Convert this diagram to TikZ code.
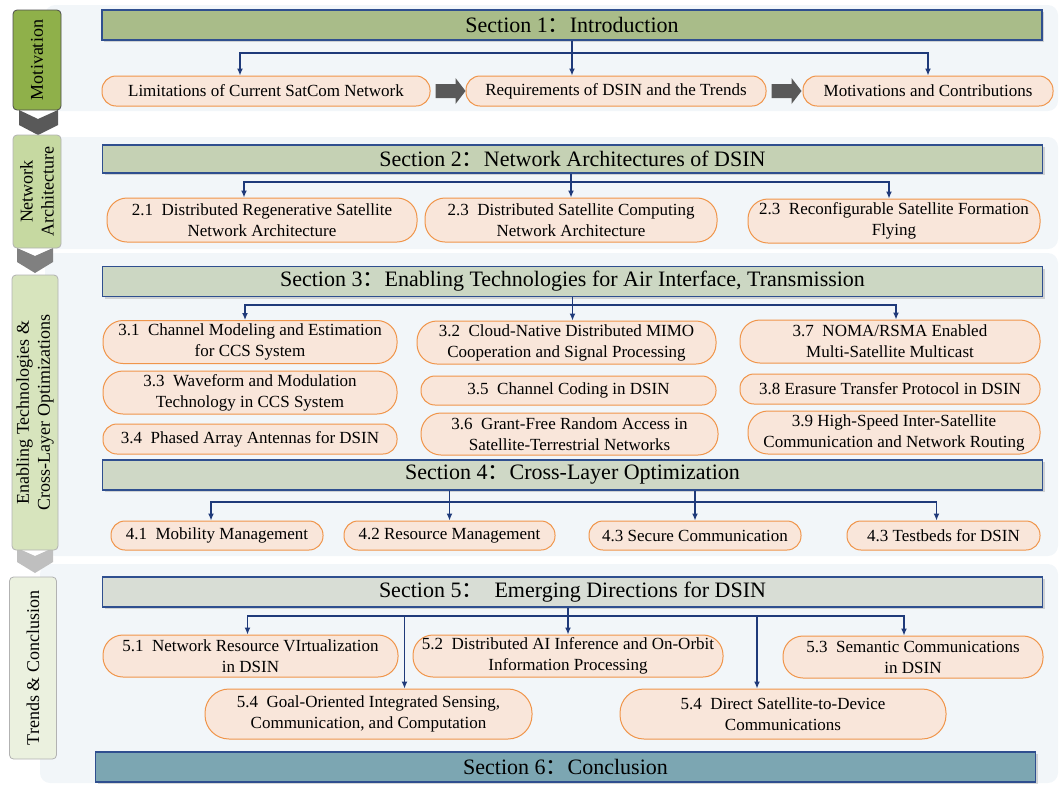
\documentclass[tikz,border=0pt]{standalone}
\usepackage{fontspec}
\setmainfont{Liberation Serif}
\newfontfamily\cjk{Noto Sans CJK SC}
\usetikzlibrary{arrows.meta,shadows,calc}

\definecolor{panelbg}{HTML}{F2F6F9}
\definecolor{secline}{HTML}{2F4F8F}
\definecolor{linkblue}{HTML}{1F3A7A}
\definecolor{pillfill}{HTML}{F9E6DA}
\definecolor{pillline}{HTML}{F0954A}
\definecolor{secA}{HTML}{A9BC89}
\definecolor{secB}{HTML}{C5D1B4}
\definecolor{secC}{HTML}{CCD7C3}
\definecolor{secD}{HTML}{CFD8C6}
\definecolor{secE}{HTML}{D8DDD5}
\definecolor{secF}{HTML}{7CA6B2}
\definecolor{sideA}{HTML}{8FB04A}
\definecolor{sideB}{HTML}{C6D9A1}
\definecolor{sideC}{HTML}{D7E4BD}
\definecolor{sideD}{HTML}{EBF1DF}

\newcommand{\fcolon}{{\cjk ：}}

\tikzset{
  secbox/.style={draw=secline, line width=1.2pt, inner sep=0pt,
    minimum width=940pt, minimum height=30pt,
    font=\fontsize{22}{26}\selectfont,
    drop shadow={shadow xshift=2pt, shadow yshift=-2pt, opacity=0.3}},
  pill/.style={draw=pillline, fill=pillfill, line width=1pt,
    rounded corners=14pt, minimum height=30pt, inner sep=1pt,
    align=center, font=\fontsize{17}{21}\selectfont},
  pilltwo/.style={pill, rounded corners=20pt, minimum height=43pt},
  link/.style={draw=linkblue, line width=1.3pt, -{Latex[length=7pt,width=6pt]}},
  sidebox/.style={rotate=90, rounded corners=4pt, line width=0.8pt,
    inner sep=0pt, align=center, font=\fontsize{18}{21}\selectfont},
  chevron/.style={line join=round},
}

\begin{document}
\begin{tikzpicture}[x=1pt, y=-1pt]
\useasboundingbox (0,0) rectangle (1062,785);

% 背景面板
\fill[panelbg, rounded corners=10pt] (45,5) rectangle (1058,111);
\fill[panelbg, rounded corners=10pt] (45,137) rectangle (1058,249);
\fill[panelbg, rounded corners=10pt] (45,253) rectangle (1058,556);
\fill[panelbg, rounded corners=10pt] (40,564) rectangle (1058,783);

% 左侧箭头
\fill[chevron, black!65] (19,110) -- (38,119) -- (58,110) -- (58,125) -- (38,135) -- (19,125) -- cycle;
\fill[chevron, black!50] (17,248) -- (35,256) -- (53,248) -- (53,262) -- (35,273) -- (17,262) -- cycle;
\fill[chevron, black!25] (17,548) -- (35,556) -- (53,548) -- (53,562) -- (35,573) -- (17,562) -- cycle;

% 左侧标签
\node[sidebox, fill=sideA, draw=black!70, minimum width=100pt, minimum height=48pt] (sa) at (37,60) {Motivation};
\node[sidebox, fill=sideB, draw=black!30, minimum width=113pt, minimum height=48pt] (sb) at (37,191.5) {Network\\Architecture};
\node[sidebox, fill=sideC, draw=black!30, minimum width=275pt, minimum height=46pt] (sc) at (35,412.5) {Enabling Technologies \&\\Cross-Layer Optimizations};
\node[sidebox, fill=sideD, draw=black!30, minimum width=182pt, minimum height=47pt] (sd) at (33,668) {Trends \& Conclusion};

% 章节标题
\node[secbox, fill=secA] (s1) at (572,25) {Section 1\fcolon Introduction};
\node[secbox, fill=secB, minimum height=28pt] (s2) at (572.5,159) {Section 2\fcolon Network Architectures of DSIN};
\node[secbox, fill=secC] (s3) at (572.5,281.5) {Section 3\fcolon Enabling Technologies for Air Interface, Transmission};
\node[secbox, fill=secD] (s4) at (572.5,475) {Section 4\fcolon Cross-Layer Optimization};
\node[secbox, fill=secE] (s5) at (572.5,592) {Section 5\fcolon\ \ Emerging Directions for DSIN};
\node[secbox, fill=secF] (s6) at (565.5,767) {Section 6\fcolon Conclusion};

% 第一节
\node[pill, minimum width=328pt] (lim) at (266,91) {Limitations of Current SatCom Network};
\node[pill, minimum width=300pt] (req) at (616,91) {Requirements of DSIN and the Trends};
\node[pill, minimum width=250pt] (mot) at (928,91) {Motivations and Contributions};

% 第二节
\node[pilltwo, minimum width=310pt, minimum height=44pt] (n21) at (262,220) {2.1\ \ Distributed Regenerative Satellite\\Network Architecture};
\node[pilltwo, minimum width=292pt, minimum height=44pt] (n22) at (571,220) {2.3\ \ Distributed Satellite Computing\\Network Architecture};
\node[pilltwo, minimum width=292pt, minimum height=44pt] (n23) at (894,221) {2.3\ \ Reconfigurable Satellite Formation\\Flying};

% 第三节
\node[pilltwo, minimum width=294pt] (n31) at (250,342) {3.1\ \ Channel Modeling and Estimation\\for CCS System};
\node[pilltwo, minimum width=294pt] (n33) at (250,392.5) {3.3\ \ Waveform and Modulation\\Technology in CCS System};
\node[pill, minimum width=294pt] (n34) at (250,439) {3.4\ \ Phased Array Antennas for DSIN};
\node[pilltwo, minimum width=299pt] (n32) at (566.5,342.5) {3.2\ \ Cloud-Native Distributed MIMO\\Cooperation and Signal Processing};
\node[pill, minimum width=295pt, minimum height=29pt] (n35) at (568.5,390.5) {3.5\ \ Channel Coding in DSIN};
\node[pilltwo, minimum width=297pt, minimum height=42pt] (n36) at (569.5,434) {3.6\ \ Grant-Free Random Access in\\Satellite-Terrestrial Networks};
\node[pilltwo, minimum width=300pt] (n37) at (890,341.5) {3.7\ \ NOMA/RSMA Enabled\\Multi-Satellite Multicast};
\node[pill, minimum width=300pt] (n38) at (890,389) {3.8 Erasure Transfer Protocol in DSIN};
\node[pilltwo, minimum width=292pt] (n39) at (894,432.5) {3.9 High-Speed Inter-Satellite\\Communication and Network Routing};

% 第四节
\node[pill, minimum width=212pt, minimum height=29pt] (n41) at (217,535.5) {4.1\ \ Mobility Management};
\node[pill, minimum width=211pt, minimum height=29pt] (n42) at (449.5,535.5) {4.2 Resource Management};
\node[pill, minimum width=212pt, minimum height=29pt] (n43) at (695,535.5) {4.3 Secure Communication};
\node[pill, minimum width=193pt, minimum height=29pt] (n44) at (943.5,535.5) {4.3 Testbeds for DSIN};

% 第五节
\node[pilltwo, minimum width=295pt, minimum height=42pt] (n51) at (250.5,656) {5.1\ \ Network Resource VIrtualization\\in DSIN};
\node[pilltwo, minimum width=310pt, minimum height=42pt] (n52) at (568,656) {5.2\ \ Distributed AI Inference and On-Orbit\\Information Processing};
\node[pilltwo, minimum width=260pt, minimum height=42pt] (n53) at (913,657) {5.3\ \ Semantic Communications\\in DSIN};
\node[pilltwo, minimum width=327pt, minimum height=50pt, rounded corners=24pt] (n54) at (368.5,714) {5.4\ \ Goal-Oriented Integrated Sensing,\\Communication, and Computation};
\node[pilltwo, minimum width=326pt, minimum height=50pt, rounded corners=24pt] (n55) at (783,714) {5.4\ \ Direct Satellite-to-Device\\Communications};

% 灰色粗箭头
\foreach \a in {lim,req}
  \fill[black!65] ($(\a.east)+(5,-7)$) -- ++(20,0) -- ++(0,-6) -- ++(10,13)
    -- ++(-10,13) -- ++(0,-6) -- ++(-20,0) -- cycle;

% 连线
\coordinate (t11) at ([xshift=-26pt]lim.north);
\draw[link] (s1.south) -- (s1.south |- req.north);
\draw[link] (s1.south |- 0,53) -| (t11);
\draw[link] (s1.south |- 0,53) -| (mot.north);

\coordinate (t21) at ([xshift=-18pt]n21.north);
\draw[link] (s2.south -| n22.north) -- (n22.north);
\draw[link] (n22.north |- 0,182) -| (t21);
\draw[link] (n22.north |- 0,182) -| ([xshift=-5pt]n23.north);

\draw[link] (s3.south) -- (s3.south |- n32.north);
\draw[link] (s3.south |- 0,305) -| ([xshift=-5pt]n31.north);
\draw[link] (s3.south |- 0,305) -| ([xshift=6pt]n37.north);

\draw[link] (s4.south -| n42.north) -- (n42.north);
\draw[link] (s4.south -| n43.north) -- (n43.north);
\draw[link] (n42.north |- 0,502) -| ([xshift=-6pt]n41.north);
\draw[link] (n42.north |- 0,502) -| ([xshift=-7pt]n44.north);

\coordinate (t54) at ([xshift=36pt]n54.north);
\coordinate (t55) at ([xshift=-26pt]n55.north);
\draw[link] (s5.south -| n52.north) -- (n52.north);
\draw[link] (n52.north |- 0,616) -| ([xshift=-3pt]n51.north);
\draw[link] (n52.north |- 0,616) -| ([xshift=-9pt]n53.north);
\draw[link] (t54 |- 0,616) -- (t54);
\draw[link] (t55 |- 0,616) -- (t55);
\end{tikzpicture}
\end{document}
